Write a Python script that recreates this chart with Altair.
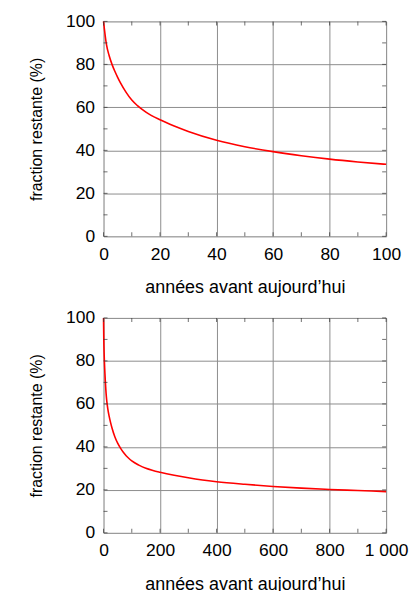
import altair as alt
import pandas as pd

years = [0, 1, 2, 3, 4, 5, 6, 8, 10, 12, 15, 20, 25, 30, 40, 50, 60, 70, 80, 90, 100,
         125, 150, 175, 200, 250, 300, 350, 400, 500, 600, 700, 800, 900, 1000]
fraction = [100, 89.5, 84, 80, 76.8, 74, 71.4, 67.0, 63.4, 60.8, 57.8, 54.2, 51.3, 48.8,
            44.7, 41.7, 39.4, 37.5, 35.9, 34.6, 33.5,
            31.5, 30.0, 29.0, 28.2, 26.8, 25.6, 24.6, 23.8, 22.6, 21.6, 20.8, 20.2, 19.7, 19.2]
y_ticks = [0, 20, 40, 60, 80, 100]
y_minor = [10, 30, 50, 70, 90]
x_ticks_top = [0, 20, 40, 60, 80, 100]
x_minor_top = [10, 30, 50, 70, 90]
x_ticks_bottom = [0, 200, 400, 600, 800, 1000]
x_minor_bottom = [100, 300, 500, 700, 900]

df = pd.DataFrame({"annee": years, "fraction": fraction})

FONT = "Liberation Sans"
GRID = "#8c8c8c"
TICK = "#333333"


def panel(data, xmax, xticks, xminor, fmt):
    xscale = alt.Scale(domain=[0, xmax], nice=False)
    yscale = alt.Scale(domain=[0, 100], nice=False)
    line = alt.Chart(data).mark_line(color="#ff0000", strokeWidth=1.6, interpolate="monotone").encode(
        x=alt.X("annee:Q", scale=xscale,
                axis=alt.Axis(title="années avant aujourd’hui", values=xticks,
                              labelExpr=fmt, labelFontSize=17.5, titleFontSize=18,
                              titleFontWeight="normal", labelPadding=9, titlePadding=16,
                              labelFlush=False, labelOverlap=False,
                              tickSize=0, domain=False, gridColor=GRID, gridOpacity=1,
                              labelFont=FONT, titleFont=FONT, labelColor="#000", titleColor="#000")),
        y=alt.Y("fraction:Q", scale=yscale,
                axis=alt.Axis(title="fraction restante (%)", values=y_ticks, labelFontSize=17.5,
                              titleFontSize=16, titleFontWeight="normal", labelPadding=9,
                              titlePadding=21, tickSize=0, domain=False, gridColor=GRID,
                              labelFlush=False,
                              gridOpacity=1, labelFont=FONT, titleFont=FONT,
                              labelColor="#000", titleColor="#000")),
    )
    xt = pd.DataFrame({"pos": xticks + xminor})
    yt = pd.DataFrame({"pos": y_ticks + y_minor})
    bottom_t = alt.Chart(xt).mark_tick(orient="vertical", color=TICK, thickness=1, size=4, yOffset=-2).encode(
        x=alt.X("pos:Q", scale=xscale), y=alt.datum(0, scale=yscale))
    top_t = alt.Chart(xt).mark_tick(orient="vertical", color=TICK, thickness=1, size=4, yOffset=2).encode(
        x=alt.X("pos:Q", scale=xscale), y=alt.datum(100, scale=yscale))
    left_t = alt.Chart(yt).mark_tick(orient="horizontal", color=TICK, thickness=1, size=4, xOffset=2).encode(
        y=alt.Y("pos:Q", scale=yscale), x=alt.datum(0, scale=xscale))
    right_t = alt.Chart(yt).mark_tick(orient="horizontal", color=TICK, thickness=1, size=4, xOffset=-2).encode(
        y=alt.Y("pos:Q", scale=yscale), x=alt.datum(xmax, scale=xscale))
    return alt.layer(line, bottom_t, top_t, left_t, right_t).properties(width=284, height=216)


top = panel(df[df["annee"] <= 100], 100, x_ticks_top, x_minor_top, "datum.label")
bottom = panel(df, 1000, x_ticks_bottom, x_minor_bottom, "replace(datum.label, ',', ' ')")

chart = alt.vconcat(top, bottom, spacing=11).configure_view(
    stroke="#555555", strokeWidth=1
).configure(padding={"left": 20, "top": 2, "right": 0, "bottom": 0})

chart.save("out.html", embed_options={"renderer": "svg", "actions": False})
